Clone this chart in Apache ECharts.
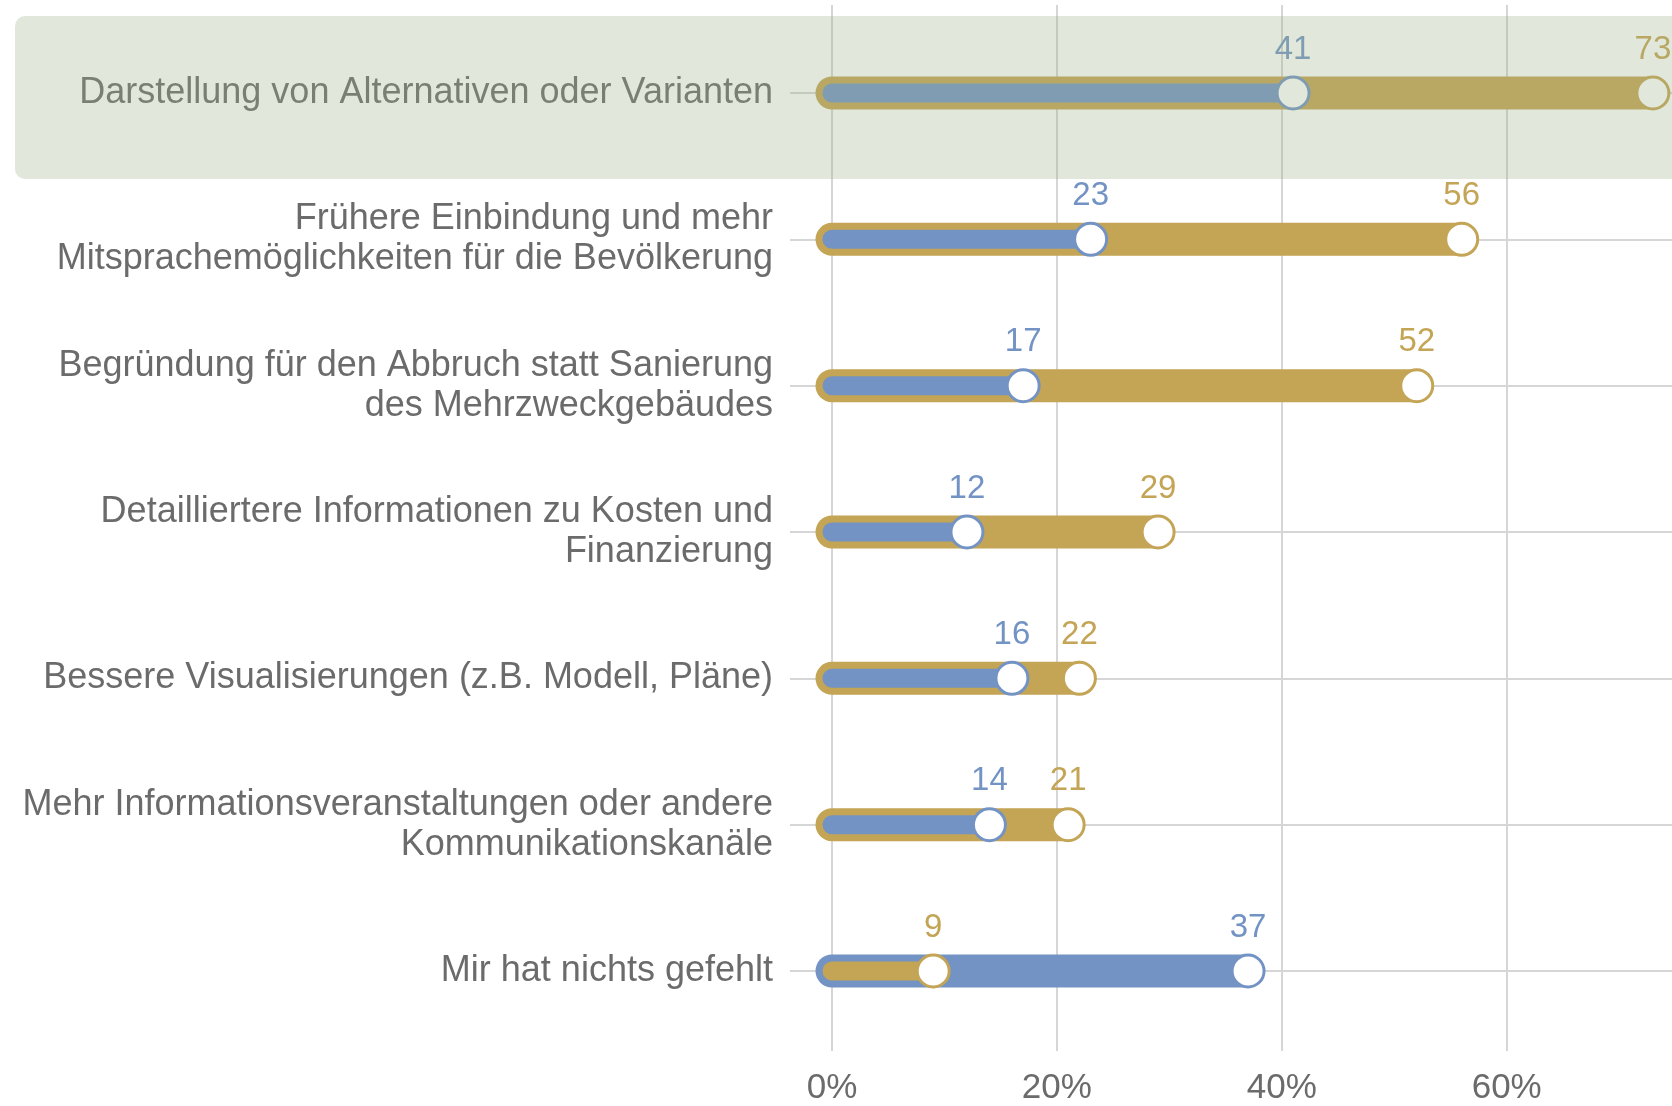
<!DOCTYPE html>
<html>
<head>
<meta charset="utf-8">
<script src="https://cdn.jsdelivr.net/npm/echarts@6/dist/echarts.min.js"></script>
<style>
  html, body { margin: 0; padding: 0; background: #fff; }
  #chart { width: 1672px; height: 1106px; }
</style>
</head>
<body>
<div id="chart"></div>
<script>
const categories = [
  'Darstellung von Alternativen oder Varianten',
  'Frühere Einbindung und mehr\nMitsprachemöglichkeiten für die Bevölkerung',
  'Begründung für den Abbruch statt Sanierung\ndes Mehrzweckgebäudes',
  'Detailliertere Informationen zu Kosten und\nFinanzierung',
  'Bessere Visualisierungen (z.B. Modell, Pläne)',
  'Mehr Informationsveranstaltungen oder andere\nKommunikationskanäle',
  'Mir hat nichts gefehlt'
];
const blueValues = [41, 23, 17, 12, 16, 14, 37];
const goldValues = [73, 56, 52, 29, 22, 21, 9];
const xTicks = [0, 20, 40, 60];
const highlightRow = 0;

const BLUE = '#7393C4';
const GOLD = '#C4A455';
const GRID = '#D6D6D6';
const TEXT = '#6B6B6B';
const FONT = '"Liberation Sans", Arial, sans-serif';

const chart = echarts.init(document.getElementById('chart'));

function renderItem(params, api) {
  const i = api.value(0);
  const b = api.value(1);
  const g = api.value(2);
  const p0 = api.coord([0, i]);
  const pb = api.coord([b, i]);
  const pg = api.coord([g, i]);
  const blueBig = b > g;
  const big = blueBig ? pb : pg;
  const small = blueBig ? pg : pb;
  const bigColor = blueBig ? BLUE : GOLD;
  const smallColor = blueBig ? GOLD : BLUE;

  const dot = (p, color) => ({
    type: 'circle',
    shape: { cx: p[0], cy: p[1], r: 16 },
    style: { fill: '#fff', stroke: color, lineWidth: 3 }
  });
  const label = (p, v, color) => ({
    type: 'text',
    x: p[0],
    y: p[1] - 27,
    style: {
      text: String(v),
      fill: color,
      font: '33px ' + FONT,
      align: 'center',
      verticalAlign: 'bottom'
    }
  });

  return {
    type: 'group',
    children: [
      {
        type: 'line',
        shape: { x1: p0[0], y1: p0[1], x2: big[0], y2: big[1] },
        style: { stroke: bigColor, lineWidth: 33, lineCap: 'round' }
      },
      {
        type: 'line',
        shape: { x1: p0[0], y1: p0[1], x2: small[0], y2: small[1] },
        style: { stroke: smallColor, lineWidth: 19, lineCap: 'round' }
      },
      dot(small, smallColor),
      dot(big, bigColor),
      label(pb, b, BLUE),
      label(pg, g, GOLD)
    ]
  };
}

const X_MAX = 74.7;

chart.setOption({
  animation: false,
  grid: [
    { left: 832, right: 0, top: 5, bottom: 48 },
    { left: 832, right: 0, top: 93, bottom: 135 }
  ],
  xAxis: [
    {
      gridIndex: 0,
      type: 'value',
      min: 0,
      max: X_MAX,
      interval: 20,
      axisLine: { show: false },
      axisTick: { show: false },
      axisLabel: {
        color: TEXT,
        fontSize: 35,
        fontFamily: FONT,
        margin: 20,
        showMaxLabel: false,
        formatter: (v) => (xTicks.includes(v) ? v + '%' : '')
      },
      splitLine: { show: true, showMaxLine: false, lineStyle: { color: GRID, width: 2 } }
    },
    {
      gridIndex: 1,
      type: 'value',
      min: 0,
      max: X_MAX,
      show: false
    }
  ],
  yAxis: [
    {
      gridIndex: 1,
      type: 'category',
      data: categories,
      inverse: true,
      boundaryGap: false,
      axisLine: { show: false },
      axisTick: { show: true, length: 42, lineStyle: { color: GRID, width: 2 } },
      axisLabel: {
        color: TEXT,
        fontSize: 36,
        fontFamily: FONT,
        lineHeight: 40,
        margin: 59,
        align: 'right',
        padding: [10, 0, -4, 0]
      },
      splitLine: { show: true, lineStyle: { color: GRID, width: 2 } }
    },
    { gridIndex: 0, type: 'value', show: false }
  ],
  series: [
    {
      type: 'custom',
      xAxisIndex: 1,
      yAxisIndex: 0,
      clip: false,
      renderItem: renderItem,
      encode: { x: [1, 2], y: 0 },
      data: categories.map((c, i) => [i, blueValues[i], goldValues[i]])
    }
  ]
});

// translucent highlight panel over the first row
const rowY = chart.convertToPixel({ xAxisIndex: 1, yAxisIndex: 0 }, [0, highlightRow])[1];
chart.setOption({
  graphic: [
    {
      type: 'rect',
      z: 100,
      silent: true,
      shape: { x: 15, y: rowY - 77, width: 1700, height: 163, r: 10 },
      style: { fill: 'rgba(157, 180, 137, 0.3)' }
    }
  ]
});
</script>
</body>
</html>
